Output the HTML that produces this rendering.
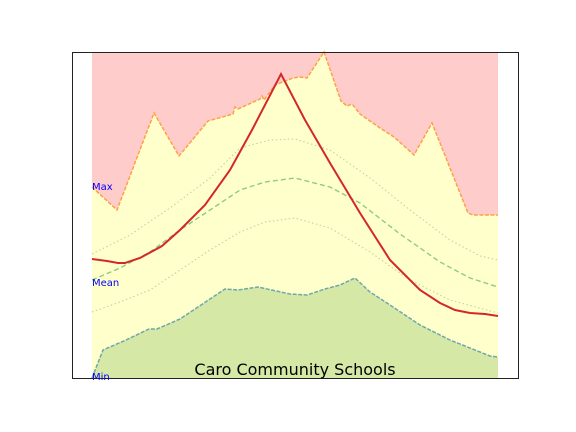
<!DOCTYPE html>
<html><head><meta charset="utf-8"><style>
html,body{margin:0;padding:0;background:#fff;}
svg{display:block;font-family:"DejaVu Sans","Liberation Sans",sans-serif;}
</style></head><body>
<svg id="chart" width="576" height="432" viewBox="0 0 576 432">
<g id="plot"></g>
<rect x="72.5" y="52.5" width="446" height="326" fill="none" stroke="#222" stroke-width="1"/>
<text x="92" y="190" font-size="10" fill="#0000ff">Max</text>
<text x="92" y="286" font-size="10" fill="#0000ff">Mean</text>
<text x="92" y="380" font-size="10" fill="#0000ff">Min</text>
<text x="295" y="375" font-size="16" fill="#000" text-anchor="middle">Caro Community Schools</text>
</svg>
<script>
const maxX=[0,25,62,87,116,141,143,146,168,170,172,183,201,208,215,232,249,255,260,268,288,302,322,340,376,381,406];
const maxY=[191,168,265,222,257,264,271,269,279,282,278,293,300,301,300,326,277,272,274,264,250,241,223,255,165,163,163];
const minX=[0,11,34,57,65,88,133,146,166,198,215,233,248,263,278,298,328,358,398,406];
const minY=[0,28,38,49,49,59,89,88,91,84,83,89,93,100,86,73,53,38,22,21];
const redX=[0,15,26,33,48,70,88,113,138,160,189,213,238,268,298,328,348,363,378,393,406];
const redY=[119,117,115,115,120,132,148,173,208,248,304,258,215,165,118,88,75,68,65,64,62];
const meanX=[0,28,58,88,118,148,173,203,238,268,308,348,378,406];
const meanY=[98,110,126,148,168,188,196,200,191,175,144,116,100,91];
const upX=[0,38,78,118,148,178,203,238,278,318,358,388,406];
const upY=[124,143,170,200,230,238,239,228,200,168,138,122,118];
const loX=[0,28,58,88,118,148,173,203,238,278,318,358,406];
const loY=[66,76,88,108,128,146,156,160,150,126,98,78,65];

const X0=92,X1=498,Y0=378,Y1=52,XMAX=406,YMAX=326;
function sx(v){return X0+v/XMAX*(X1-X0);}
function sy(v){return Y0-v/YMAX*(Y0-Y1);}
function pts(xs,ys){return xs.map((x,i)=>sx(x).toFixed(1)+','+sy(ys[i]).toFixed(1));}
const NS='http://www.w3.org/2000/svg';
const g=document.getElementById('plot');
function add(tag,attrs,name){const e=document.createElementNS(NS,tag);for(const k in attrs)e.setAttribute(k,attrs[k]);


g.appendChild(e);return e;}
const mp=pts(maxX,maxY), np=pts(minX,minY);
add('polygon',{points:[sx(0)+','+sy(YMAX),...mp,sx(XMAX)+','+sy(YMAX)].join(' '),fill:'#ffcccc'},'above-max-fill');
add('polygon',{points:[...mp,...np.slice().reverse()].join(' '),fill:'#ffffcc'},'min-max-fill');
add('polygon',{points:[...np,sx(XMAX)+','+sy(0),sx(0)+','+sy(0)].join(' '),fill:'#d6e8a6'},'below-min-fill');
add('polyline',{points:mp.join(' '),fill:'none',stroke:'#ffa04a','stroke-width':1.5,'stroke-dasharray':'4,1.5'},'max-line');
add('polyline',{points:np.join(' '),fill:'none',stroke:'#6fa8a8','stroke-width':1.5,'stroke-dasharray':'4,1.5'},'min-line');
add('polyline',{points:pts(upX,upY).join(' '),fill:'none',stroke:'#c8d4a8','stroke-width':1.2,'stroke-dasharray':'1.5,2.5'},'upper-dotted-line');
add('polyline',{points:pts(loX,loY).join(' '),fill:'none',stroke:'#c8d4a8','stroke-width':1.2,'stroke-dasharray':'1.5,2.5'},'lower-dotted-line');
add('polyline',{points:pts(meanX,meanY).join(' '),fill:'none',stroke:'#8fcc7f','stroke-width':1.4,'stroke-dasharray':'5,3'},'mean-line');
add('polyline',{points:pts(redX,redY).join(' '),fill:'none',stroke:'#d62728','stroke-width':2},'school-line');
</script>
</body></html>
